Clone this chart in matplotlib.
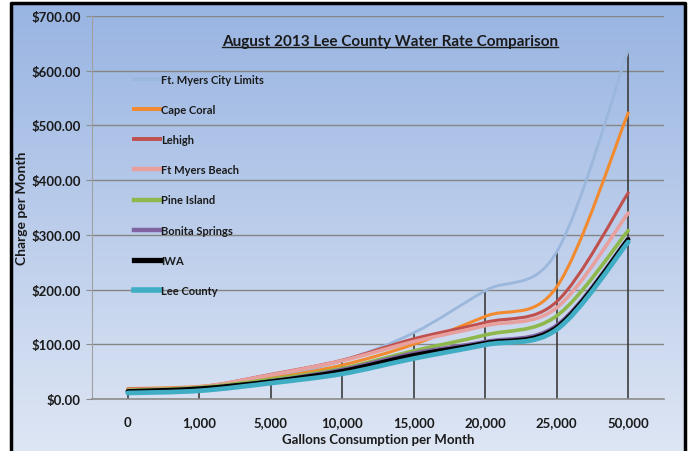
import numpy as np
import matplotlib
matplotlib.use("Agg")
import matplotlib.pyplot as plt
from matplotlib.path import Path
from matplotlib.patches import PathPatch, Rectangle
from matplotlib.lines import Line2D

plt.rcParams['font.family'] = ['Lato', 'DejaVu Sans']

categories = ['0', '1,000', '5,000', '10,000', '15,000', '20,000', '25,000', '50,000']

ft_myers_city = [16, 21, 40, 70, 121, 198, 269, 638]
cape_coral = [19, 23, 38, 62, 100, 151, 205, 523]
lehigh = [18, 22, 45, 71, 110, 140, 178, 377]
ft_myers_beach = [17, 22, 44, 70, 105, 134, 167, 340]
pine_island = [16, 21, 36, 56, 88, 117, 152, 308]
bonita_springs = [14, 19, 33, 54, 84, 105, 135, 294]
iwa = [14, 19, 32, 51, 80, 102, 131, 292]
lee_county = [11, 15, 29, 46, 74, 99, 127, 287]

series = [
    ("Ft. Myers City Limits", ft_myers_city, "#9bb7dc", 2.0),
    ("Cape Coral", cape_coral, "#f28a30", 2.2),
    ("Lehigh", lehigh, "#c0504d", 2.2),
    ("Ft Myers Beach", ft_myers_beach, "#e8a09e", 2.6),
    ("Pine Island", pine_island, "#8fb84c", 2.6),
    ("Bonita Springs", bonita_springs, "#8064a2", 2.6),
    ("IWA", iwa, "#000000", 3.2),
    ("Lee County", lee_county, "#3fadc4", 3.4),
]


def smooth_path(xs, ys):
    # bezier segments through the points, like excel's smoothed line
    pts = np.column_stack([xs, ys]).astype(float)
    n = len(pts)
    verts = [pts[0]]
    codes = [Path.MOVETO]
    for i in range(n - 1):
        p0 = pts[max(i - 1, 0)]
        p1 = pts[i]
        p2 = pts[i + 1]
        p3 = pts[min(i + 2, n - 1)]
        c1 = p1 + (p2 - p0) / 6.0
        c2 = p2 - (p3 - p1) / 6.0
        verts += [c1, c2, p2]
        codes += [Path.CURVE4] * 3
    return Path(verts, codes)


fig = plt.figure(figsize=(6.94, 4.52), dpi=100)

# gradient background
bg = fig.add_axes([0, 0, 1, 1], zorder=-5)
grad = np.linspace(0, 1, 256).reshape(-1, 1)
top = np.array([152, 180, 226]) / 255
bot = np.array([222, 230, 244]) / 255
img = top + (bot - top) * grad[..., None]
bg.imshow(img, aspect='auto', extent=[0, 1, 0, 1], origin='upper')
bg.set_xlim(0, 1)
bg.set_ylim(0, 1)
bg.axis('off')
W, H = 694, 452
bg.add_patch(Rectangle((0, 0), 10 / W, 1, color='white', zorder=2))
bg.add_patch(Rectangle((686 / W, 0), 1, 1, color='white', zorder=2))
bg.add_patch(Rectangle((0, 1 - 3 / H), 1, 1, color='white', zorder=2))
bg.plot([11 / W, 11 / W, 685 / W, 685 / W], [0, 1 - 4 / H, 1 - 4 / H, 0],
        color='black', lw=2.5, zorder=3)

ax = fig.add_axes([92 / W, 1 - 400 / H, 572 / W, 383 / H])
ax.set_facecolor('none')
x = np.arange(len(categories))

tops = np.max(np.array([s[1] for s in series]), axis=0)
ax.vlines(x, 0, tops, color='#3c3c3c', lw=1.2, zorder=1.5)

handles = []
for name, vals, color, lw in series:
    patch = PathPatch(smooth_path(x, vals), fill=False, edgecolor=color, lw=lw,
                      capstyle='round', joinstyle='round', zorder=3)
    ax.add_patch(patch)
    handles.append(Line2D([], [], color=color, lw=lw + 0.6))

ax.set_xlim(-0.5, len(categories) - 0.5)
ax.set_ylim(0, 700)
ax.set_yticks(np.arange(0, 701, 100))
ax.set_yticklabels(["${:.2f}".format(v) for v in range(0, 701, 100)])
ax.set_xticks(x)
ax.set_xticklabels(categories)
ax.yaxis.grid(True, color='#858585', lw=1.0)
ax.set_axisbelow(True)
for s in ['top', 'right']:
    ax.spines[s].set_visible(False)
ax.spines['left'].set_color('#a0a0a0')
ax.spines['bottom'].set_color('#8c8c8c')
ax.spines['bottom'].set_linewidth(1.2)
ax.tick_params(axis='y', length=4, color='#8c8c8c', pad=4, labelsize=9.5)
ax.tick_params(axis='x', length=0, pad=12, labelsize=9.5)
for lab in ax.get_xticklabels() + ax.get_yticklabels():
    lab.set_fontweight('bold')
    lab.set_color('#1a1a1a')

ax.set_xlabel("Gallons Consumption per Month", fontsize=9.5, fontweight='bold',
              color='#1a1a1a')
ax.xaxis.set_label_coords(0.5, -34 / 383)
ax.set_ylabel("Charge per Month", fontsize=10, fontweight='bold',
              color='#1a1a1a')
ax.yaxis.set_label_coords(-64 / 572, 0.5)

leg = ax.legend(handles, [s[0] for s in series], loc='upper left',
                bbox_to_anchor=(124 / W, 1 - 65 / H), bbox_transform=fig.transFigure,
                frameon=False, handlelength=2.3, handletextpad=0.1,
                labelspacing=1.72, prop={'weight': 'bold', 'size': 8})
for t in leg.get_texts():
    t.set_color('#1a1a1a')

title = fig.text(390 / W, 1 - 42 / H, "August 2013 Lee County Water Rate Comparison",
                 ha='center', va='center', fontsize=11, fontweight='bold',
                 color='#1a1a1a')
fig.canvas.draw()
bb = title.get_window_extent().transformed(fig.transFigure.inverted())
fig.add_artist(Line2D([bb.x0, bb.x1], [bb.y0 + 0.002, bb.y0 + 0.002],
                      color='#1a1a1a', lw=1.0, transform=fig.transFigure))

fig.savefig("out.png", dpi=100)
